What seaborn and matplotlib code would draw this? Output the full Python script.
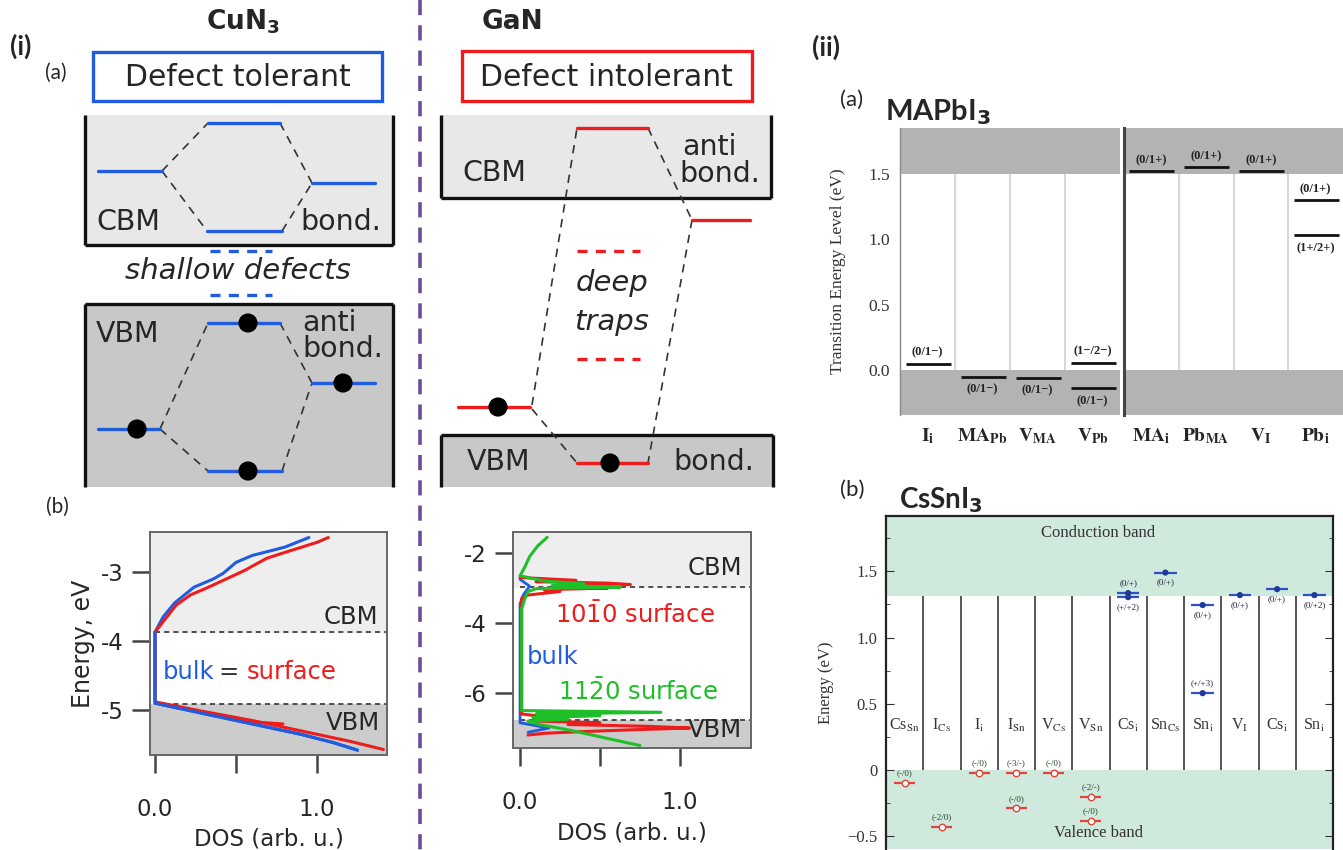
import matplotlib
matplotlib.use("Agg")
import matplotlib.pyplot as plt
import seaborn as sns
import pandas as pd
from matplotlib.patches import Rectangle

# ------------------------------------------------------------------ data
# (i)(b) CuN3 density of states (DOS vs energy, eV)
cun3_bulk_dos = [1.25, 1.1, 0.9, 0.6, 0.3, 0.1, 0.0, 0.0, 0.05, 0.12, 0.24, 0.36, 0.42, 0.5, 0.6, 0.8, 0.95]
cun3_bulk_E = [-5.58, -5.47, -5.35, -5.2, -5.05, -4.95, -4.9, -3.87, -3.65, -3.45, -3.22, -3.1, -3.02, -2.86, -2.76, -2.64, -2.5]
cun3_surf_dos = [1.41, 1.2, 0.9, 0.6, 0.3, 0.0, 0.0, 0.05, 0.13, 0.22, 0.32, 0.44, 0.55, 0.69, 0.85, 1.0, 1.07]
cun3_surf_E = [-5.57, -5.45, -5.3, -5.15, -5.02, -4.88, -3.87, -3.72, -3.48, -3.33, -3.23, -3.1, -2.98, -2.8, -2.68, -2.57, -2.5]
cun3_branch_dos = [0.45, 0.6, 0.79]
cun3_branch_E = [-5.12, -5.17, -5.2]
cun3_cbm, cun3_vbm = -3.87, -4.91

# (i)(b) GaN density of states
gan_bulk_dos = [0.0, 0.06, 0.02, 0.0, 0.0, 0.0, 0.18, 0.05]
gan_bulk_E = [-2.75, -2.95, -3.2, -3.45, -6.5, -6.85, -7.0, -7.12]
gan_1010_dos = [0.0, 0.35, 0.1, 0.55, 0.69, 0.3, 0.55, 0.15, 0.25, 0.05, 0.01, 0.01,
                0.2, 0.1, 0.5, 0.3, 0.8, 1.06, 0.7, 0.4, 0.15, 0.05]
gan_1010_E = [-2.7, -2.78, -2.82, -2.86, -2.9, -2.95, -3.0, -3.05, -3.1, -3.2, -3.3, -6.6,
              -6.7, -6.8, -6.85, -6.9, -6.95, -7.0, -7.05, -7.1, -7.15, -7.2]
gan_1120_dos = [0.17, 0.11, 0.06, 0.03, 0.0, 0.15, 0.4, 0.2, 0.63, 0.1, 0.05, 0.03, 0.01, 0.01,
                0.01, 0.88, 0.1, 0.5, 0.08, 0.3, 0.05, 0.12, 0.3, 0.45, 0.6, 0.75]
gan_1120_E = [-1.55, -1.8, -2.1, -2.4, -2.65, -2.8, -2.88, -2.93, -2.97, -3.02, -3.1, -3.3, -3.6, -5.0,
              -6.5, -6.55, -6.6, -6.65, -6.7, -6.75, -6.8, -6.9, -7.05, -7.2, -7.35, -7.5]
gan_cbm, gan_vbm = -2.97, -6.77

# (ii)(a) MAPbI3 transition levels (eV)
mapbi_left_names = [r"$\mathbf{I}_{\mathbf{i}}$", r"$\mathbf{MA}_{\mathbf{Pb}}$",
                    r"$\mathbf{V}_{\mathbf{MA}}$", r"$\mathbf{V}_{\mathbf{Pb}}$"]
mapbi_right_names = [r"$\mathbf{MA}_{\mathbf{i}}$", r"$\mathbf{Pb}_{\mathbf{MA}}$",
                     r"$\mathbf{V}_{\mathbf{I}}$", r"$\mathbf{Pb}_{\mathbf{i}}$"]
mapbi_left_col = [0, 1, 2, 3, 3]
mapbi_left_E = [0.05, -0.055, -0.06, 0.055, -0.14]
mapbi_left_lab = ["(0/1−)", "(0/1−)", "(0/1−)", "(1−/2−)", "(0/1−)"]
mapbi_left_above = [True, False, False, True, False]
mapbi_right_col = [0, 1, 2, 3, 3]
mapbi_right_E = [1.52, 1.55, 1.52, 1.30, 1.03]
mapbi_right_lab = ["(0/1+)", "(0/1+)", "(0/1+)", "(0/1+)", "(1+/2+)"]
mapbi_right_above = [True, True, True, True, False]
mapbi_cbm, mapbi_vbm = 1.5, 0.0

# (ii)(b) CsSnI3 transition levels (eV)
cssni_names = [r"Cs$_{\rm Sn}$", r"I$_{\rm Cs}$", r"I$_{\rm i}$", r"I$_{\rm Sn}$", r"V$_{\rm Cs}$",
               r"V$_{\rm Sn}$", r"Cs$_{\rm i}$", r"Sn$_{\rm Cs}$", r"Sn$_{\rm i}$", r"V$_{\rm I}$",
               r"Cs$_{\rm i}$", r"Sn$_{\rm i}$"]
cssni_acc_col = [0, 1, 2, 3, 3, 4, 5, 5]
cssni_acc_E = [-0.10, -0.43, -0.025, -0.025, -0.29, -0.025, -0.20, -0.385]
cssni_acc_lab = ["(-/0)", "(-2/0)", "(-/0)", "(-3/-)", "(-/0)", "(-/0)", "(-2/-)", "(-/0)"]
cssni_don_col = [6, 6, 7, 8, 8, 9, 10, 11]
cssni_don_E = [1.335, 1.305, 1.49, 1.245, 0.58, 1.32, 1.365, 1.32]
cssni_don_lab = ["(0/+)", "(+/+2)", "(0/+)", "(0/+)", "(+/+3)", "(0/+)", "(0/+)", "(0/+2)"]
cssni_don_above = [True, False, False, False, True, False, False, False]
cssni_cbm, cssni_vbm = 1.31, 0.0

# schematic level diagrams of (i)(a), in sketch coordinates: (x0, x1, y)
cun3_cb_levels = [(98, 162, 171), (208, 280, 123), (207, 282, 231), (312, 375, 183)]
cun3_vb_levels = [(98, 160, 429), (208, 280, 323), (208, 282, 471), (312, 375, 383)]
cun3_vb_dots = [(137, 429), (248, 323), (248, 471), (343, 383)]
cun3_links = [(162, 171, 208, 123), (162, 171, 207, 231), (280, 123, 312, 183), (282, 231, 312, 183),
              (160, 429, 208, 323), (160, 429, 208, 471), (280, 323, 312, 383), (282, 471, 312, 383)]
cun3_shallow = [(210, 272, 251), (210, 272, 295)]
gan_levels = [(577, 648, 128), (692, 750, 220), (458, 530, 407), (577, 648, 463)]
gan_dots = [(498, 407), (610, 463)]
gan_links = [(532, 405, 577, 128), (648, 128, 692, 220), (692, 220, 648, 463), (532, 409, 577, 463)]
gan_deep = [(577, 640, 251), (577, 640, 359)]

# ------------------------------------------------------------------ style
sns.set_style("white")
plt.rcParams['font.family'] = ['DejaVu Sans']
plt.rcParams['mathtext.fontset'] = 'stix'
plt.rcParams['axes.unicode_minus'] = False

BLUE = '#1f5ce0'
RED = '#ee1c1c'
GREEN = '#1fbf2a'
LIGHT = '#e8e8e8'
DARK = '#c8c8c8'
SERIF = 'Liberation Serif'
SCH = 20.5  # schematic label size

W, H = 1343, 850
fig = plt.figure(figsize=(W / 100, H / 100), dpi=100)


def px_axes(x0, y0, x1, y1, **kw):
    return fig.add_axes([x0 / W, 1 - y1 / H, (x1 - x0) / W, (y1 - y0) / H], **kw)


# ------------------------------------------------------------------ overlay (schematics, labels)
ov = fig.add_axes([0, 0, 1, 1], zorder=0)

# purple divider
ov.plot([420, 420], [0, 850], color='#6a4c9c', lw=2.6, ls=(0, (4.2, 2.8)))

# panel letters / titles
ov.text(21, 46, "(i)", fontsize=19, fontweight='bold', ha='center', va='center', family='Lato')
ov.text(56, 73, "(a)", fontsize=15, ha='center', va='center', family='Lato')
ov.text(57, 507, "(b)", fontsize=15, ha='center', va='center', family='Lato')
ov.text(243, 22, r"CuN$_\mathbf{3}$", fontsize=19, fontweight='bold', ha='center', va='center',
        math_fontfamily='dejavusans')
ov.text(512, 22, "GaN", fontsize=19, fontweight='bold', ha='center', va='center')
ov.text(826, 47, "(ii)", fontsize=19, fontweight='bold', ha='center', va='center', family='Lato')
ov.text(852, 100, "(a)", fontsize=16, ha='center', va='center', family='Lato')
ov.text(885, 112, r"MAPbI$_\mathbf{3}$", fontsize=21, fontweight='bold', ha='left', va='center',
        family='Lato', math_fontfamily='dejavusans')
ov.text(852, 490, "(b)", fontsize=16, ha='center', va='center', family='Lato')
ov.text(899, 500, r"CsSnI$_\mathbf{3}$", fontsize=20, fontweight='bold', ha='left', va='center',
        family='Lato', math_fontfamily='dejavusans')


def band_box(x0, x1, y0, y1, color, border):
    ov.add_patch(Rectangle((x0, y0), x1 - x0, y1 - y0, facecolor=color, edgecolor='none', zorder=1))
    kw = dict(color='#111111', lw=2.4, zorder=2, solid_capstyle='butt')
    ov.plot([x0, x0], [y0, y1], **kw)
    ov.plot([x1, x1], [y0, y1], **kw)
    yb = y1 if border == 'bottom' else y0
    ov.plot([x0, x1], [yb, yb], **kw)


# CuN3 schematic
ov.add_patch(Rectangle((93, 52), 289, 49, facecolor='white', edgecolor=BLUE, lw=2.4, zorder=2))
ov.text(238, 77, "Defect tolerant", fontsize=21.5, ha='center', va='center', zorder=3)
band_box(85, 393, 115, 245, LIGHT, 'bottom')
band_box(85, 393, 304, 487, DARK, 'top')
for x0, y0, x1, y1 in cun3_links:
    ov.plot([x0, x1], [y0, y1], color='#333333', lw=1.2, ls=(0, (5, 4)), zorder=3)
for x0, x1, y in cun3_cb_levels + cun3_vb_levels:
    ov.plot([x0, x1], [y, y], color=BLUE, lw=2.4, zorder=4)
for x0, x1, y in cun3_shallow:
    ov.plot([x0, x1], [y, y], color=BLUE, lw=2.4, ls=(0, (3, 2.5)), zorder=4)
dots = pd.DataFrame(cun3_vb_dots + gan_dots, columns=['x', 'y'])
ov.text(96, 222, "CBM", fontsize=SCH, ha='left', va='center', zorder=5)
ov.text(300, 222, "bond.", fontsize=SCH, ha='left', va='center', zorder=5)
ov.text(238, 271, "shallow defects", fontsize=SCH + 0.5, style='italic', ha='center', va='center', zorder=5)
ov.text(96, 334, "VBM", fontsize=SCH, ha='left', va='center', zorder=5)
ov.text(302, 323, "anti", fontsize=SCH, ha='left', va='center', zorder=5)
ov.text(302, 349, "bond.", fontsize=SCH, ha='left', va='center', zorder=5)

# GaN schematic
ov.add_patch(Rectangle((462, 51), 290, 50, facecolor='white', edgecolor=RED, lw=2.4, zorder=2))
ov.text(606, 77, "Defect intolerant", fontsize=21.5, ha='center', va='center', zorder=3)
band_box(441, 771, 115, 198, LIGHT, 'bottom')
band_box(441, 773, 435, 487, DARK, 'top')
for x0, y0, x1, y1 in gan_links:
    ov.plot([x0, x1], [y0, y1], color='#333333', lw=1.2, ls=(0, (5, 4)), zorder=3)
for x0, x1, y in gan_levels:
    ov.plot([x0, x1], [y, y], color=RED, lw=2.4, zorder=4)
for x0, x1, y in gan_deep:
    ov.plot([x0, x1], [y, y], color=RED, lw=2.4, ls=(0, (3, 2.5)), zorder=4)
sns.scatterplot(data=dots, x='x', y='y', ax=ov, color='black', s=190, edgecolor='none', zorder=6,
                legend=False)
ov.set_xlim(0, W)
ov.set_ylim(H, 0)
ov.axis('off')
ov.text(462, 173, "CBM", fontsize=SCH, ha='left', va='center', zorder=5)
ov.text(682, 147, "anti", fontsize=SCH, ha='left', va='center', zorder=5)
ov.text(679, 174, "bond.", fontsize=SCH, ha='left', va='center', zorder=5)
ov.text(612, 283, "deep", fontsize=SCH + 0.5, style='italic', ha='center', va='center', zorder=5)
ov.text(612, 322, "traps", fontsize=SCH + 0.5, style='italic', ha='center', va='center', zorder=5)
ov.text(467, 462, "VBM", fontsize=SCH, ha='left', va='center', zorder=5)
ov.text(673, 462, "bond.", fontsize=SCH, ha='left', va='center', zorder=5)


# ------------------------------------------------------------------ DOS panels
def dos_style(ax, xlim, ylim, yticks, cbm, vbm):
    ax.set_xlim(*xlim)
    ax.set_ylim(*ylim)
    ax.axhspan(cbm, ylim[1], color='#eeeeee', zorder=0)
    ax.axhspan(ylim[0], vbm, color='#cccccc', zorder=0)
    ax.hlines([cbm, vbm], 0, xlim[1], colors='#333333', lw=1.2, linestyles=(0, (3, 2.5)), zorder=1)
    ax.set_xticks([0, 0.5, 1.0])
    ax.set_xticklabels(["0.0", "", "1.0"])
    ax.set_yticks(yticks)
    ax.set_yticklabels([str(t) for t in yticks])
    ax.tick_params(axis='both', direction='out', length=13, width=1.8, color='#444444',
                   labelsize=16.5, bottom=True, left=True)
    ax.tick_params(axis='x', pad=18)
    ax.tick_params(axis='y', pad=6)
    for s in ax.spines.values():
        s.set_color('#666666')
        s.set_linewidth(1.4)
    ax.set_xlabel("DOS (arb. u.)", fontsize=16.5, labelpad=5)
    ax.set_ylabel("")


ax1 = px_axes(150, 532, 387, 755, zorder=2)
sns.lineplot(x=cun3_bulk_dos, y=cun3_bulk_E, sort=False, estimator=None, ax=ax1, color=BLUE, lw=2.2)
sns.lineplot(x=cun3_surf_dos, y=cun3_surf_E, sort=False, estimator=None, ax=ax1, color=RED, lw=2.2)
sns.lineplot(x=cun3_branch_dos, y=cun3_branch_E, sort=False, estimator=None, ax=ax1, color=RED, lw=2.2)
sns.lineplot(x=cun3_bulk_dos[:8], y=cun3_bulk_E[:8], sort=False, estimator=None, ax=ax1, color=BLUE, lw=2.2)
dos_style(ax1, (-0.031, 1.432), (-5.65, -2.42), [-5, -4, -3], cun3_cbm, cun3_vbm)
ax1.set_ylabel("Energy, eV", fontsize=17, labelpad=4)
ax1.text(1.38, -3.65, "CBM", fontsize=17.5, ha='right', va='center')
ax1.text(1.39, -5.19, "VBM", fontsize=17.5, ha='right', va='center')
ax1.text(0.045, -4.45, "bulk", fontsize=17.5, ha='left', va='center', color=BLUE)
ax1.text(0.455, -4.45, "=", fontsize=17.5, ha='center', va='center', color='#333333')
ax1.text(0.565, -4.45, "surface", fontsize=17.5, ha='left', va='center', color=RED)

ax2 = px_axes(513, 532, 751, 748, zorder=2)
sns.lineplot(x=gan_bulk_dos, y=gan_bulk_E, sort=False, estimator=None, ax=ax2, color=BLUE, lw=2)
sns.lineplot(x=gan_1010_dos, y=gan_1010_E, sort=False, estimator=None, ax=ax2, color=RED, lw=2.2)
sns.lineplot(x=gan_1120_dos, y=gan_1120_E, sort=False, estimator=None, ax=ax2, color=GREEN, lw=2.2)
dos_style(ax2, (-0.044, 1.444), (-7.57, -1.4), [-6, -4, -2], gan_cbm, gan_vbm)
ax2.text(1.39, -2.43, "CBM", fontsize=17.5, ha='right', va='center')
ax2.text(1.39, -7.06, "VBM", fontsize=17.5, ha='right', va='center')
ax2.text(0.22, -3.77, r"$10\bar{1}0$ surface", fontsize=17.5, ha='left', va='center', color=RED,
         math_fontfamily='dejavusans')
ax2.text(0.04, -4.97, "bulk", fontsize=17.5, ha='left', va='center', color=BLUE)
ax2.text(0.24, -5.97, r"$11\bar{2}0$ surface", fontsize=17.5, ha='left', va='center', color=GREEN,
         math_fontfamily='dejavusans')

# ------------------------------------------------------------------ (ii)(a) MAPbI3
GRAYA = '#b3b3b3'
ylim_a = (-0.344, 1.852)


def mapbi_panel(ax, names, cols, Es, labs, above, ncol_lim):
    ax.set_xlim(0, ncol_lim)
    ax.set_ylim(*ylim_a)
    ax.axhspan(mapbi_cbm, ylim_a[1], color=GRAYA, zorder=0, lw=0)
    ax.axhspan(ylim_a[0], mapbi_vbm, color=GRAYA, zorder=0, lw=0)
    ax.vlines([1, 2, 3], mapbi_vbm, mapbi_cbm, colors='#cfcfcf', lw=1.2, zorder=1)
    ax.hlines(Es, [c + 0.1 for c in cols], [c + 0.92 for c in cols], colors='#111111', lw=2, zorder=3)
    for c, e, l, a in zip(cols, Es, labs, above):
        ax.annotate(l, (c + 0.5, e), xytext=(0, 8 if a else -9), textcoords='offset points',
                    ha='center', va='center', fontsize=9, fontweight='bold', family=SERIF,
                    color='#222222', zorder=4)
    ax.set_xticks([0.5, 1.5, 2.5, 3.5])
    ax.set_xticklabels(names, fontsize=14)
    ax.tick_params(axis='x', length=0, pad=8)
    for s in ['top', 'right', 'bottom']:
        ax.spines[s].set_visible(False)
    ax.set_yticks([0.0, 0.5, 1.0, 1.5])


axa1 = px_axes(900, 128, 1120, 415, zorder=2)
mapbi_panel(axa1, mapbi_left_names, mapbi_left_col, mapbi_left_E, mapbi_left_lab, mapbi_left_above, 4)
axa1.set_yticklabels(["0.0", "0.5", "1.0", "1.5"], family=SERIF, fontsize=12.5, color='#333333')
axa1.tick_params(axis='y', direction='in', length=5, color='#555555', pad=7)
axa1.spines['left'].set_color('#888888')
axa1.spines['left'].set_linewidth(1.0)
axa1.set_ylabel("Transition Energy Level (eV)", family=SERIF, fontsize=12.5, color='#333333', labelpad=16)

axa2 = px_axes(1124, 128, 1343, 415, zorder=2)
mapbi_panel(axa2, mapbi_right_names, mapbi_right_col, mapbi_right_E, mapbi_right_lab, mapbi_right_above, 4)
axa2.set_yticklabels([])
axa2.tick_params(axis='y', direction='out', length=5, color='#333333')
axa2.spines['left'].set_color('#444444')
axa2.spines['left'].set_linewidth(2.2)

# ------------------------------------------------------------------ (ii)(b) CsSnI3
GREENBG = '#cfe9dc'
ylim_b = (-0.596, 1.917)
axb = px_axes(886, 516, 1333, 849, zorder=2)
axb.set_xlim(0, 12)
axb.set_ylim(*ylim_b)
axb.axhspan(cssni_cbm, ylim_b[1], color=GREENBG, zorder=0, lw=0)
axb.axhspan(ylim_b[0], cssni_vbm, color=GREENBG, zorder=0, lw=0)
axb.vlines(list(range(1, 12)), cssni_vbm, cssni_cbm, colors='#555555', lw=1.4, zorder=1)
for i, n in enumerate(cssni_names):
    axb.text(i + 0.5, 0.34, n, ha='center', va='center', family=SERIF, fontsize=11.5, color='#333333')
axb.text(5.7, 1.79, "Conduction band", ha='center', va='center', family=SERIF, fontsize=12, color='#333333')
axb.text(5.7, -0.475, "Valence band", ha='center', va='center', family=SERIF, fontsize=12, color='#333333')

acc_x = [c + 0.5 for c in cssni_acc_col]
don_x = [c + 0.5 for c in cssni_don_col]
axb.hlines(cssni_acc_E, [c + 0.22 for c in cssni_acc_col], [c + 0.78 for c in cssni_acc_col],
           colors='#e0453a', lw=1.6, zorder=3)
axb.hlines(cssni_don_E, [c + 0.2 for c in cssni_don_col], [c + 0.8 for c in cssni_don_col],
           colors='#3050c8', lw=1.6, zorder=3)
sns.scatterplot(x=acc_x, y=cssni_acc_E, ax=axb, marker='o', s=22, facecolor='white',
                edgecolor='#e0453a', linewidth=1.0, zorder=4, legend=False)
sns.scatterplot(x=don_x, y=cssni_don_E, ax=axb, marker='o', s=20, color='#203a9a',
                edgecolor='none', zorder=4, legend=False)
for x, e, l in zip(acc_x, cssni_acc_E, cssni_acc_lab):
    axb.annotate(l, (x, e), xytext=(0, 7), textcoords='offset points', ha='center', va='center',
                 fontsize=6.5, family=SERIF, color='#224422', zorder=5)
for x, e, l, a in zip(don_x, cssni_don_E, cssni_don_lab, cssni_don_above):
    axb.annotate(l, (x, e), xytext=(0, 7 if a else -7), textcoords='offset points', ha='center',
                 va='center', fontsize=6.5, family=SERIF, color='#222244', zorder=5)
axb.set_xticks([])
axb.set_yticks([-0.5, 0, 0.5, 1.0, 1.5])
axb.set_yticks([-0.25, 0.25, 0.75, 1.25, 1.75], minor=True)
axb.set_yticklabels(["−0.5", "0", "0.5", "1.0", "1.5"], family=SERIF, fontsize=12, color='#333333')
axb.tick_params(axis='y', which='both', direction='in', left=True, right=True, color='#333333')
axb.tick_params(axis='y', which='major', length=6, pad=6)
axb.tick_params(axis='y', which='minor', length=3)
axb.set_ylabel("Energy (eV)", family=SERIF, fontsize=12, color='#333333', labelpad=10)
for s in ['top', 'left', 'right']:
    axb.spines[s].set_color('#222222')
    axb.spines[s].set_linewidth(1.6)
axb.spines['bottom'].set_visible(False)
axb.set_xlabel("")

fig.savefig("out.png", dpi=100)
